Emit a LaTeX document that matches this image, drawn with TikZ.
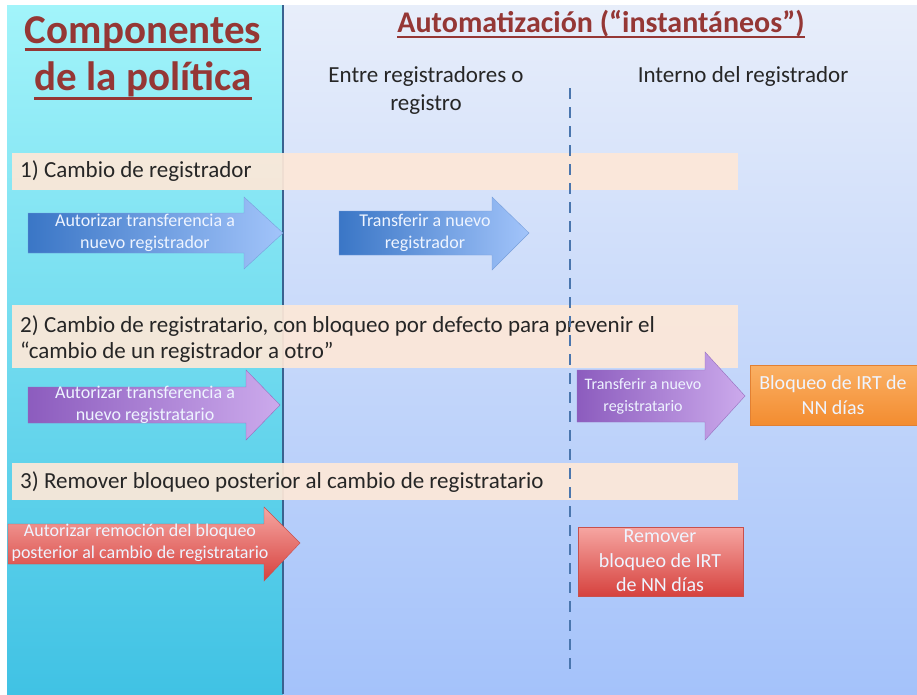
\documentclass[tikz,border=0pt]{standalone}
\usepackage{fontspec}
\setmainfont{Carlito}
\usetikzlibrary{positioning}
\definecolor{titlered}{HTML}{953735}
\definecolor{darktext}{HTML}{262626}
\definecolor{cyantop}{HTML}{A2F4FA}
\definecolor{cyanbot}{HTML}{40C2E4}
\definecolor{lavtop}{HTML}{E8EEFA}
\definecolor{lavbot}{HTML}{A4C2FA}
\definecolor{bandfill}{HTML}{FDE8D8}
\definecolor{dashblue}{HTML}{4A76AE}
\definecolor{edgeblue}{HTML}{3A6290}
\definecolor{arrtext}{HTML}{EEF4FF}
\begin{document}
\begin{tikzpicture}[x=1pt, y=-1pt,
  titulo/.style = {text=titlered, inner sep=0pt},
  cabecera/.style = {text=darktext, align=center, font=\fontsize{23}{28}\selectfont},
  banda/.style = {fill=bandfill, fill opacity=0.93},
  bandtext/.style = {text=darktext, anchor=west, align=left, inner sep=0pt, font=\fontsize{23}{26}\selectfont},
  flechatext/.style = {text=arrtext, align=center, inner sep=0pt, font=\fontsize{18}{22}\selectfont},
  cajatext/.style = {text=arrtext, align=center, inner sep=0pt, font=\fontsize{20}{24.5}\selectfont},
  azul/.style = {left color={rgb,255:red,58;green,118;blue,198}, right color={rgb,255:red,162;green,196;blue,250}, draw={rgb,255:red,120;green,160;blue,220}, line width=0.4pt},
  morado/.style = {left color={rgb,255:red,140;green,92;blue,190}, right color={rgb,255:red,204;green,170;blue,236}, draw={rgb,255:red,150;green,110;blue,190}, line width=0.4pt},
  rojo/.style = {top color={rgb,255:red,246;green,166;blue,162}, bottom color={rgb,255:red,214;green,66;blue,62}, draw={rgb,255:red,200;green,80;blue,76}, line width=0.4pt},
  naranja/.style = {top color={rgb,255:red,250;green,176;blue,100}, bottom color={rgb,255:red,243;green,140;blue,48}, draw={rgb,255:red,226;green,128;blue,50}, line width=0.4pt}]
\useasboundingbox[fill=white] (0,0) rectangle (917,694);
% paneles de fondo
\shade[top color=cyantop, bottom color=cyanbot] (7,5) rectangle (283,694);
\shade[top color=lavtop, bottom color=lavbot] (283,5) rectangle (917,694);
\draw[edgeblue, line width=1.2pt] (283,5) -- (283,694);
% titulos
\node[titulo, font=\bfseries\fontsize{41}{44}\selectfont, anchor=base] (comp) at (143,43) {Componentes};
\node[titulo, font=\bfseries\fontsize{41}{44}\selectfont, anchor=base] (poli) at (143,90) {de la política};
\node[titulo, font=\bfseries\fontsize{30}{32}\selectfont, anchor=base] (auto) at (601,32) {Automatización (“instantáneos”)};
\draw[titlered, line width=3pt] ([yshift=-6pt]comp.base west) -- ([yshift=-6pt]comp.base east);
\draw[titlered, line width=3pt] ([yshift=-8pt]poli.base west) -- ([yshift=-8pt]poli.base east);
\draw[titlered, line width=2pt] ([yshift=-5pt]auto.base west) -- ([yshift=-5pt]auto.base east);
\node[cabecera] (entre) at (426,90) {Entre registradores o\\registro};
\node[cabecera] (interno) at (743,76) {Interno del registrador};
% bandas de los casos
\fill[banda] (12,153) rectangle (738,190);
\fill[banda] (12,305) rectangle (738,368);
\fill[banda] (12,463) rectangle (738,500);
\node[bandtext] (caso1) at (20,171) {1) Cambio de registrador};
\node[bandtext] (caso2) at (20,339) {2) Cambio de registratario, con bloqueo por defecto para prevenir el\\“cambio de un registrador a otro”};
\node[bandtext] (caso3) at (20,482) {3) Remover bloqueo posterior al cambio de registratario};
% linea divisoria
\draw[dashblue, line width=2pt, dash pattern=on 11pt off 8pt] (570,88) -- (570,676);
% flechas
\shade[azul] (28,213) -- (244,213) -- (244,197) -- (283,233) -- (244,269) -- (244,253) -- (28,253) -- cycle;
\shade[azul] (339,211) -- (492,211) -- (492,197) -- (529,233) -- (492,270) -- (492,255) -- (339,255) -- cycle;
\shade[morado] (28,387) -- (246,387) -- (246,370) -- (280,405) -- (246,440) -- (246,423) -- (28,423) -- cycle;
\shade[morado] (577,370) -- (705,370) -- (705,352) -- (745,396) -- (705,440) -- (705,422) -- (577,422) -- cycle;
\shade[rojo] (8,524) -- (264,524) -- (264,507) -- (300,543) -- (264,581) -- (264,564) -- (8,564) -- cycle;
\node[flechatext] (aut1) at (145,233) {Autorizar transferencia a\\nuevo registrador};
\node[flechatext] (tra1) at (425,233) {Transferir a nuevo\\registrador};
\node[flechatext] (aut2) at (145,405) {Autorizar transferencia a\\nuevo registratario};
\node[flechatext, font=\fontsize{16}{22}\selectfont] (tra2) at (643,396) {Transferir a nuevo\\registratario};
\node[flechatext] (aut3) at (140,543) {Autorizar remoción del bloqueo\\posterior al cambio de registratario};
% cajas de resultado
\shade[naranja] (750,365) rectangle (917,425);
\node[cajatext] (bloq) at (833,395) {Bloqueo de IRT de\\NN días};
\shade[rojo] (578,527) rectangle (743,596);
\node[cajatext] (remo) at (660,561) {Remover\\bloqueo de IRT\\de NN días};
\end{tikzpicture}
\end{document}
